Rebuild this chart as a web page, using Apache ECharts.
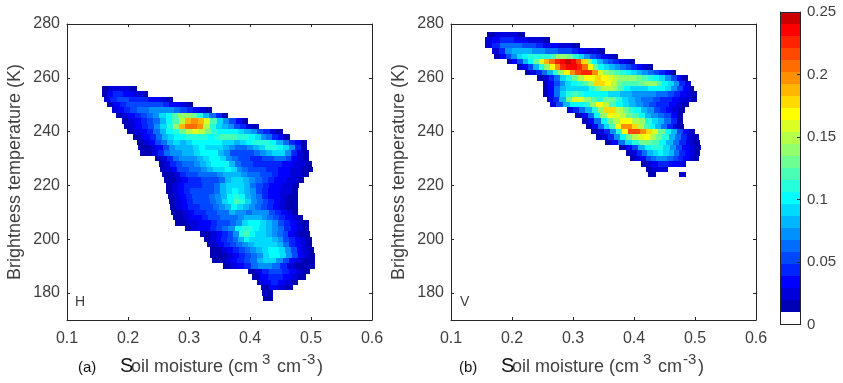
<!DOCTYPE html>
<html>
<head>
<meta charset="utf-8">
<style>html,body{margin:0;padding:0;background:#fff}#chart{width:843px;height:383px}</style>
<script src="https://cdn.jsdelivr.net/npm/echarts@6/dist/echarts.min.js"></script>
</head>
<body>
<div id="chart"></div>
<script>
var tStep = 2;
var yTicks = [180, 200, 220, 240, 260, 280];
var barTicks = [0, 0.05, 0.1, 0.15, 0.2, 0.25];
var colorMap = ['#ffffff', '#0000b4', '#0000da', '#0000ff', '#0024ff', '#0048ff', '#006dff', '#0091ff', '#00b6ff', '#00daff', '#00ffff', '#25ffdb', '#49ffb6', '#6dff92', '#92ff6d', '#b6ff49', '#dbff25', '#ffff00', '#ffda00', '#ffb600', '#ff9100', '#ff6d00', '#ff4800', '#ff2400', '#ff0000', '#cc0000'];

// panel (a) H: left and right soil moisture edge of every temperature row, density in units of 0.01
var tempsH = [256, 254, 252, 250, 248, 246, 244, 242, 240, 238, 236, 234, 232, 230, 228, 226, 224, 222, 220, 218, 216, 214, 212, 210, 208, 206, 204, 202, 200, 198, 196, 194, 192, 190, 188, 186, 184, 182, 180, 178];
var startH = [0.157, 0.158, 0.161, 0.166, 0.173, 0.18, 0.19, 0.193, 0.199, 0.208, 0.215, 0.217, 0.22, 0.245, 0.25, 0.252, 0.255, 0.259, 0.262, 0.263, 0.266, 0.268, 0.269, 0.271, 0.273, 0.277, 0.293, 0.318, 0.325, 0.329, 0.334, 0.335, 0.337, 0.355, 0.397, 0.404, 0.412, 0.418, 0.42, 0.422];
var endH = [0.214, 0.233, 0.273, 0.307, 0.337, 0.364, 0.397, 0.414, 0.454, 0.465, 0.493, 0.494, 0.496, 0.497, 0.501, 0.504, 0.496, 0.489, 0.48, 0.478, 0.478, 0.478, 0.478, 0.479, 0.487, 0.496, 0.497, 0.499, 0.501, 0.502, 0.505, 0.507, 0.507, 0.507, 0.498, 0.492, 0.479, 0.47, 0.438, 0.438];
var densityH = [
    [1, 2, 2, 2, 1],
    [1, 3, 4, 4, 3, 3, 2, 2, 1],
    [2, 4, 5, 5, 4, 4, 4, 3, 3, 2, 1],
    [1, 3, 4, 5, 5, 5, 5, 5, 5, 4, 3, 3, 2, 1],
    [2, 3, 4, 5, 6, 6, 7, 7, 7, 7, 6, 5, 4, 3, 2, 1],
    [1, 2, 3, 4, 5, 6, 7, 9, 10, 12, 14, 14, 13, 11, 8, 6, 4, 1],
    [1, 2, 3, 4, 5, 6, 8, 10, 12, 15, 19, 20, 19, 16, 12, 9, 7, 5, 3, 1],
    [1, 2, 3, 4, 5, 7, 9, 11, 14, 19, 21, 21, 20, 15, 11, 9, 8, 7, 5, 4, 2, 1],
    [1, 2, 3, 4, 6, 8, 10, 11, 13, 15, 16, 15, 13, 11, 10, 10, 10, 9, 8, 7, 5, 4, 2, 1],
    [1, 2, 3, 4, 6, 8, 9, 10, 10, 11, 11, 11, 11, 10, 11, 12, 12, 12, 11, 11, 10, 9, 7, 6, 4, 3, 1],
    [1, 2, 3, 5, 6, 8, 9, 8, 9, 10, 10, 10, 10, 10, 9, 9, 8, 9, 10, 11, 11, 11, 10, 8, 6, 4, 3, 1],
    [1, 1, 2, 3, 5, 7, 8, 8, 8, 9, 10, 9, 9, 9, 8, 7, 6, 6, 7, 8, 9, 11, 11, 10, 9, 7, 4, 1],
    [1, 1, 2, 4, 6, 7, 7, 8, 8, 9, 10, 10, 10, 8, 7, 5, 5, 5, 5, 6, 7, 8, 9, 9, 7, 4, 2, 1],
    [1, 2, 4, 6, 7, 7, 7, 8, 9, 10, 10, 9, 7, 6, 5, 5, 4, 4, 5, 5, 6, 6, 5, 3, 2, 1],
    [1, 2, 4, 5, 6, 6, 7, 8, 9, 10, 10, 10, 8, 6, 5, 5, 4, 4, 4, 4, 4, 3, 3, 2, 2, 1],
    [1, 2, 3, 5, 5, 6, 6, 7, 8, 9, 9, 10, 9, 7, 6, 5, 5, 5, 4, 4, 3, 3, 2, 2, 1, 1],
    [1, 1, 2, 4, 5, 5, 6, 6, 6, 7, 8, 8, 8, 7, 6, 6, 5, 5, 4, 3, 3, 2, 2, 1],
    [1, 1, 2, 3, 4, 4, 5, 5, 5, 6, 8, 9, 9, 8, 7, 6, 5, 4, 3, 3, 2, 2, 1],
    [1, 2, 3, 4, 4, 4, 5, 5, 6, 8, 9, 9, 9, 8, 6, 5, 4, 3, 3, 2, 2, 1],
    [1, 2, 3, 4, 5, 5, 5, 5, 6, 8, 9, 10, 9, 8, 7, 5, 4, 3, 3, 2, 2, 1],
    [1, 2, 3, 4, 5, 5, 5, 6, 7, 8, 10, 11, 10, 8, 7, 6, 4, 3, 3, 2, 1, 1],
    [1, 2, 3, 4, 5, 5, 5, 6, 7, 9, 10, 12, 11, 9, 7, 6, 5, 4, 3, 2, 1, 1],
    [1, 2, 3, 4, 4, 5, 5, 6, 7, 8, 10, 9, 8, 7, 6, 5, 4, 3, 2, 1, 1],
    [1, 1, 2, 3, 4, 4, 5, 5, 6, 6, 8, 7, 7, 6, 7, 7, 7, 5, 4, 3, 2, 1],
    [1, 1, 2, 3, 3, 4, 5, 5, 6, 6, 6, 7, 8, 8, 8, 7, 6, 5, 4, 3, 2, 1],
    [1, 1, 2, 2, 3, 3, 4, 5, 5, 6, 7, 9, 10, 10, 9, 8, 7, 5, 4, 3, 2, 1],
    [1, 2, 3, 3, 4, 5, 6, 7, 10, 11, 11, 10, 9, 8, 7, 6, 4, 3, 2, 1],
    [1, 1, 2, 3, 4, 5, 7, 11, 12, 10, 9, 9, 8, 7, 6, 5, 3, 2, 1, 1],
    [1, 2, 3, 4, 5, 6, 8, 10, 9, 9, 9, 9, 8, 7, 5, 4, 3, 2, 1],
    [1, 2, 3, 4, 5, 6, 7, 8, 9, 9, 9, 9, 8, 6, 4, 3, 2, 1],
    [1, 1, 2, 3, 4, 5, 6, 7, 8, 9, 10, 10, 9, 7, 5, 3, 2, 1],
    [1, 1, 1, 2, 3, 4, 5, 6, 7, 9, 10, 10, 9, 7, 5, 3, 2, 1],
    [1, 1, 2, 3, 4, 5, 6, 8, 9, 9, 7, 5, 3, 2, 1, 1],
    [1, 2, 3, 4, 6, 7, 7, 6, 4, 2, 1, 1, 1],
    [1, 2, 4, 5, 5, 4, 3, 2, 1],
    [1, 3, 4, 4, 3, 2, 1],
    [2, 3, 4, 3, 2, 1],
    [1, 3, 2, 1],
    [1, 2, 1, 1],
    [1, 1, 1]
];

// panel (b) V, the last row is the small separate patch near 0.48
var tempsV = [276, 274, 272, 270, 268, 266, 264, 262, 260, 258, 256, 254, 252, 250, 248, 246, 244, 242, 240, 238, 236, 234, 232, 230, 228, 226, 224, 224];
var startV = [0.159, 0.156, 0.156, 0.167, 0.171, 0.191, 0.208, 0.221, 0.241, 0.25, 0.25, 0.25, 0.257, 0.262, 0.29, 0.303, 0.314, 0.322, 0.33, 0.338, 0.352, 0.376, 0.387, 0.393, 0.412, 0.42, 0.423, 0.474];
var endV = [0.221, 0.262, 0.311, 0.352, 0.374, 0.401, 0.431, 0.469, 0.489, 0.493, 0.499, 0.504, 0.504, 0.49, 0.483, 0.481, 0.481, 0.482, 0.5, 0.506, 0.508, 0.51, 0.509, 0.507, 0.485, 0.455, 0.436, 0.485];
var densityV = [
    [1, 2, 2, 2, 1],
    [2, 3, 4, 4, 3, 3, 2, 2, 1],
    [2, 4, 6, 6, 6, 5, 5, 4, 3, 3, 2, 2, 1],
    [2, 4, 7, 8, 8, 8, 7, 7, 6, 6, 5, 5, 4, 3, 2, 2, 1],
    [1, 3, 5, 7, 9, 10, 11, 11, 11, 11, 12, 14, 14, 13, 11, 9, 7, 5, 4, 3, 2, 1],
    [1, 3, 5, 8, 10, 13, 16, 19, 21, 23, 24, 25, 24, 22, 18, 14, 10, 8, 6, 5, 4, 3, 2, 1],
    [1, 3, 5, 8, 11, 14, 17, 20, 23, 24, 24, 23, 21, 17, 13, 10, 9, 8, 7, 6, 5, 4, 3, 2, 1],
    [1, 2, 4, 6, 8, 11, 14, 17, 20, 22, 23, 23, 20, 16, 14, 13, 12, 11, 10, 9, 8, 7, 6, 5, 4, 3, 1],
    [1, 2, 4, 6, 9, 11, 13, 15, 17, 17, 18, 17, 16, 15, 14, 14, 14, 13, 12, 11, 10, 9, 7, 5, 3, 1],
    [1, 3, 5, 7, 9, 10, 11, 12, 14, 18, 18, 17, 15, 13, 12, 12, 12, 13, 14, 14, 12, 10, 9, 7, 4, 2],
    [1, 3, 6, 8, 9, 9, 9, 9, 11, 13, 15, 15, 14, 12, 10, 9, 9, 9, 10, 10, 10, 9, 7, 5, 3, 1],
    [1, 3, 6, 9, 11, 12, 11, 10, 10, 10, 10, 9, 9, 8, 8, 7, 7, 7, 7, 6, 6, 5, 4, 3, 2, 1],
    [2, 4, 8, 13, 16, 16, 14, 12, 11, 13, 13, 11, 9, 8, 7, 6, 6, 5, 4, 4, 3, 2, 2, 1],
    [2, 5, 8, 10, 10, 11, 14, 17, 15, 12, 10, 9, 8, 7, 6, 5, 4, 4, 3, 2, 1],
    [2, 4, 6, 8, 11, 14, 18, 18, 15, 13, 11, 10, 8, 7, 5, 4, 3, 2, 1],
    [1, 3, 6, 10, 14, 17, 16, 15, 13, 12, 10, 8, 7, 6, 5, 3, 1],
    [1, 3, 6, 10, 13, 15, 17, 17, 15, 14, 11, 9, 8, 6, 4, 1],
    [1, 3, 6, 9, 12, 17, 20, 20, 18, 15, 12, 10, 8, 6, 4, 2, 1],
    [1, 2, 4, 7, 11, 17, 22, 22, 20, 18, 16, 13, 10, 8, 5, 3, 1],
    [1, 2, 4, 7, 10, 13, 15, 16, 17, 15, 13, 11, 8, 6, 4, 2, 1],
    [1, 3, 6, 9, 11, 13, 13, 12, 10, 8, 6, 4, 2, 1],
    [1, 3, 5, 8, 10, 11, 11, 9, 7, 5, 3, 2, 1],
    [1, 2, 4, 6, 8, 9, 10, 9, 8, 6, 4, 3, 2, 1],
    [1, 2, 3, 5, 6, 7, 7, 6, 5, 4, 3, 2, 1],
    [1, 2, 3, 4, 4, 3, 3, 2],
    [1, 2, 2, 2],
    [1, 1],
    [2]
];

function buildCells(temps, starts, ends, rows) {
    var cells = [];
    rows.forEach(function (row, r) {
        var w = (ends[r] - starts[r]) / row.length;
        row.forEach(function (v, i) {
            cells.push([starts[r] + i * w, starts[r] + (i + 1) * w, temps[r], v / 100]);
        });
    });
    return cells;
}

function colorOf(v) {
    var idx = Math.floor(v / 0.25 * 26 + 1e-6);
    return colorMap[Math.min(idx, colorMap.length - 1)];
}

function renderCell(params, api) {
    var t = api.value(2);
    var p0 = api.coord([api.value(0), t + tStep / 2]);
    var p1 = api.coord([api.value(1), t - tStep / 2]);
    var left = Math.round(p0[0]), top = Math.round(p0[1]);
    return {
        type: 'rect',
        shape: {x: left, y: top, width: Math.round(p1[0]) - left, height: Math.round(p1[1]) - top},
        style: {fill: colorOf(api.value(3))}
    };
}

function renderBarBlock(params, api) {
    var i = api.value(0);
    var step = 0.25 / colorMap.length;
    var p0 = api.coord([0, (i + 1) * step]);
    var p1 = api.coord([1, i * step]);
    return {
        type: 'rect',
        shape: {x: p0[0], y: Math.round(p0[1]), width: p1[0] - p0[0], height: Math.round(p1[1]) - Math.round(p0[1])},
        style: {fill: colorMap[i]}
    };
}

var ink = '#262626', labelColor = '#404040';
var fontName = '"Liberation Sans", Arial, sans-serif';

function boxX(grid, main) {
    return {
        type: 'value', gridIndex: grid, min: 0.1, max: 0.6, interval: 0.1,
        position: main ? 'bottom' : 'top',
        axisLine: {show: true, onZero: false, lineStyle: {color: ink, width: 1}},
        axisTick: {show: true, inside: true, length: 3, lineStyle: {color: ink}},
        axisLabel: {show: main, color: labelColor, fontSize: 16, fontFamily: fontName, margin: 11},
        splitLine: {show: false}
    };
}

function boxY(grid, main) {
    return {
        type: 'value', gridIndex: grid, min: 170, max: 280,
        position: main ? 'left' : 'right',
        name: main ? 'Brightness temperature (K)' : '',
        nameLocation: 'middle', nameGap: 43, nameRotate: 90,
        nameTextStyle: {color: labelColor, fontSize: 18, fontFamily: fontName},
        axisLine: {show: true, onZero: false, lineStyle: {color: ink, width: 1}},
        axisTick: {show: true, inside: true, length: 3, lineStyle: {color: ink}, customValues: yTicks},
        axisLabel: {show: main, color: labelColor, fontSize: 16, fontFamily: fontName, margin: 7, customValues: yTicks},
        splitLine: {show: false}
    };
}

function barFrame(position) {
    return {
        type: 'value', gridIndex: 2, position: position, min: 0, max: 1, z: 5,
        axisLabel: {show: false}, axisTick: {show: false}, splitLine: {show: false},
        axisLine: {show: true, onZero: false, lineStyle: {color: ink}}
    };
}

function captionText(left, top, text, size, color) {
    return {
        type: 'text', left: left, top: top,
        style: {text: text, fontSize: size, fontFamily: fontName, fill: color}
    };
}

function caption(offset, tag) {
    return [
        captionText(offset + 78, 360, tag, 15, '#111111'),
        captionText(offset + 120, 356, 'S', 20, '#111111'),
        captionText(offset + 131, 358, 'oil moisture (cm', 18, labelColor),
        captionText(offset + 262, 352, '3', 15, labelColor),
        captionText(offset + 277, 358, 'cm', 18, labelColor),
        captionText(offset + 302, 352, '-3', 15, labelColor),
        captionText(offset + 317, 358, ')', 18, labelColor)
    ];
}

var barBlocks = colorMap.map(function (c, i) {
    return [i];
});

var chart = echarts.init(document.getElementById('chart'), null, {renderer: 'canvas'});
chart.setOption({
    animation: false,
    backgroundColor: '#ffffff',
    grid: [
        {left: 67, top: 24, width: 305, height: 296},
        {left: 451, top: 24, width: 305, height: 296},
        {left: 780.5, top: 12, width: 19.5, height: 312.5}
    ],
    xAxis: [
        boxX(0, true), boxX(0, false), boxX(1, true), boxX(1, false),
        barFrame('bottom'), barFrame('top')
    ],
    yAxis: [
        boxY(0, true), boxY(0, false), boxY(1, true), boxY(1, false),
        {
            type: 'value', gridIndex: 2, min: 0, max: 0.25, interval: 0.05, position: 'right', z: 5,
            axisLine: {show: true, onZero: false, lineStyle: {color: ink}},
            axisTick: {show: true, inside: true, length: 3, lineStyle: {color: ink}},
            axisLabel: {color: labelColor, fontSize: 15, fontFamily: fontName, margin: 7, padding: [3, 0, 0, 0], customValues: barTicks},
            splitLine: {show: false}
        },
        barFrame('left')
    ],
    series: [
        {type: 'custom', xAxisIndex: 0, yAxisIndex: 0, data: buildCells(tempsH, startH, endH, densityH), renderItem: renderCell, encode: {x: [0, 1], y: 2}, silent: true},
        {type: 'custom', xAxisIndex: 2, yAxisIndex: 2, data: buildCells(tempsV, startV, endV, densityV), renderItem: renderCell, encode: {x: [0, 1], y: 2}, silent: true},
        {type: 'custom', xAxisIndex: 4, yAxisIndex: 4, data: barBlocks, renderItem: renderBarBlock, silent: true, z: 1}
    ],
    graphic: caption(0, '(a)').concat(caption(381, '(b)')).concat([
        captionText(75, 295, 'H', 14, labelColor),
        captionText(460, 295, 'V', 14, labelColor)
    ])
});
</script>
</body>
</html>
